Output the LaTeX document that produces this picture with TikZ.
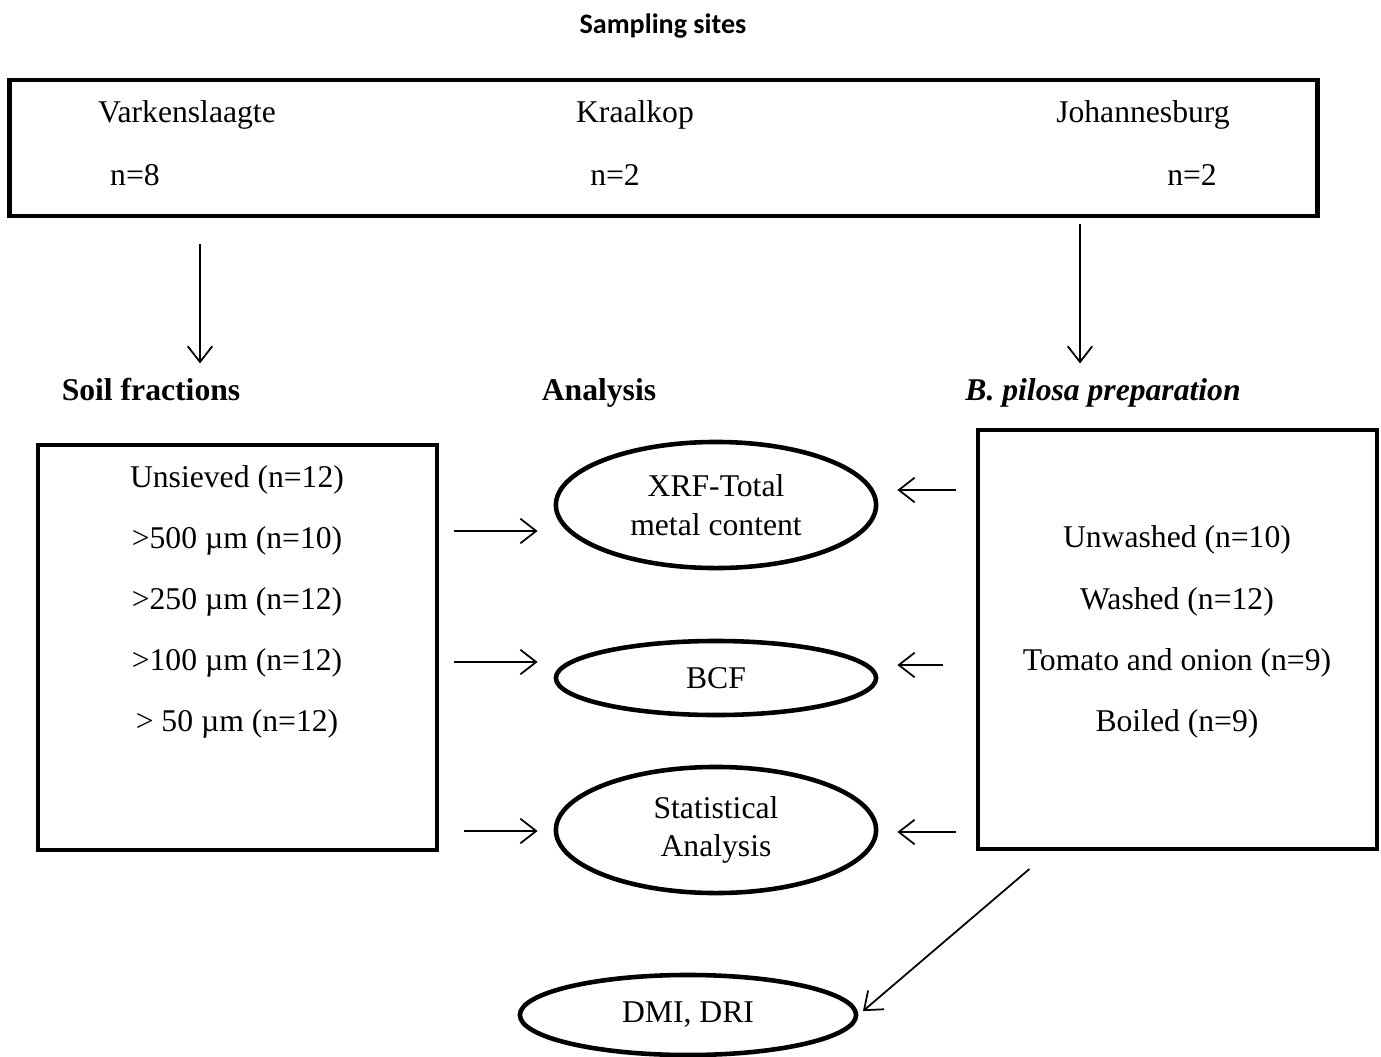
\documentclass[tikz,border=0pt]{standalone}
\usepackage{fontspec}
\setmainfont{Liberation Serif}
\newfontfamily\titlefont{Carlito}
\usetikzlibrary{positioning,arrows.meta,shapes.geometric}
\tikzset{
box/.style={draw, line width=1.3pt, inner sep=0pt},
oval/.style={draw, ellipse, line width=1.3pt, minimum width=3.2cm, inner sep=0pt, align=center},
arr/.style={-{Straight Barb[length=4.5pt,width=7pt]}, line width=0.5pt},
head/.style={font=\fontsize{9}{11}\selectfont\bfseries, text height=1.5ex, text depth=0.25ex},
items/.style={align=center, font=\fontsize{9}{17.4}\selectfont}
}

\begin{document}
\begin{tikzpicture}[x=0.01cm, y=-0.01cm, font=\fontsize{9}{11}\selectfont]
   \useasboundingbox (0,0) rectangle (1381,1057);
   \node[font=\titlefont\bfseries\fontsize{8}{10}\selectfont] (title) at (663,26) {Sampling sites};
   % sampling sites
   \node[box, minimum width=13.07cm, minimum height=1.36cm] (sites) at (663.5,148) {};
   \node (vark) at (187,115) {Varkenslaagte};
   \node (varkn) at (135,175) {n=8};
   \node (kraal) at (635,115) {Kraalkop};
   \node (kraaln) at (615,175) {n=2};
   \node (joburg) at (1143,115) {Johannesburg};
   \node (joburgn) at (1192,175) {n=2};
   % headings
   \node[head] (soilhead) at (151,390) {Soil fractions};
   \node[head] (anahead) at (599,390) {Analysis};
   \node[head, font=\fontsize{9}{11}\selectfont\bfseries\itshape] (bphead) at (1103,390) {B. pilosa preparation};
   % boxes
   \node[box, minimum width=3.99cm, minimum height=4.05cm] (soil) at (237.5,647.5) {};
   \node[items] (soillist) at (237,602) {Unsieved (n=12)\\>500 µm (n=10)\\>250 µm (n=12)\\>100 µm (n=12)\\> 50 µm (n=12)};
   \node[box, minimum width=3.99cm, minimum height=4.19cm] (bp) at (1177.5,639.5) {};
   \node[items] (bplist) at (1177,632) {Unwashed (n=10)\\Washed (n=12)\\Tomato and onion (n=9)\\Boiled (n=9)};
   % analysis
   \node[oval, minimum height=1.26cm] (xrf) at (716,505) {XRF-Total\\metal content};
   \node[oval, minimum height=0.74cm] (bcf) at (716,678) {BCF};
   \node[oval, minimum height=1.26cm] (stat) at (716,830) {Statistical\\Analysis};
   \node[oval, minimum width=3.36cm, minimum height=0.8cm] (dmi) at (688,1015) {DMI, DRI};
   % arrows
   \coordinate (lx) at (200,0);
   \coordinate (rx) at (1080,0);
   \coordinate (dx) at (1050,0);
   \coordinate (r1) at (0,531);
   \coordinate (r2) at (0,662);
   \coordinate (r3) at (0,831);
   \coordinate (q1) at (0,490);
   \coordinate (q2) at (0,665);
   \coordinate (q3) at (0,832);
   \draw[arr, shorten <=0.26cm] (sites.south -| lx) -- (soilhead.north -| lx);
   \draw[arr, shorten <=0.06cm] (sites.south -| rx) -- (bphead.north -| rx);
   \draw[arr, shorten <=0.15cm, shorten >=0.16cm] (soil.east |- r1) -- (xrf.west |- r1);
   \draw[arr, shorten <=0.15cm, shorten >=0.16cm] (soil.east |- r2) -- (bcf.west |- r2);
   \draw[arr, shorten <=0.25cm, shorten >=0.16cm] (soil.east |- r3) -- (stat.west |- r3);
   \draw[arr, shorten <=0.2cm, shorten >=0.19cm] (bp.west |- q1) -- (xrf.east |- q1);
   \draw[arr, shorten <=0.33cm, shorten >=0.19cm] (bp.west |- q2) -- (bcf.east |- q2);
   \draw[arr, shorten <=0.2cm, shorten >=0.19cm] (bp.west |- q3) -- (stat.east |- q3);
   \draw[arr, shorten <=0.27cm, shorten >=0.06cm] (bp.south -| dx) -- (dmi.east);
\end{tikzpicture}
\end{document}
